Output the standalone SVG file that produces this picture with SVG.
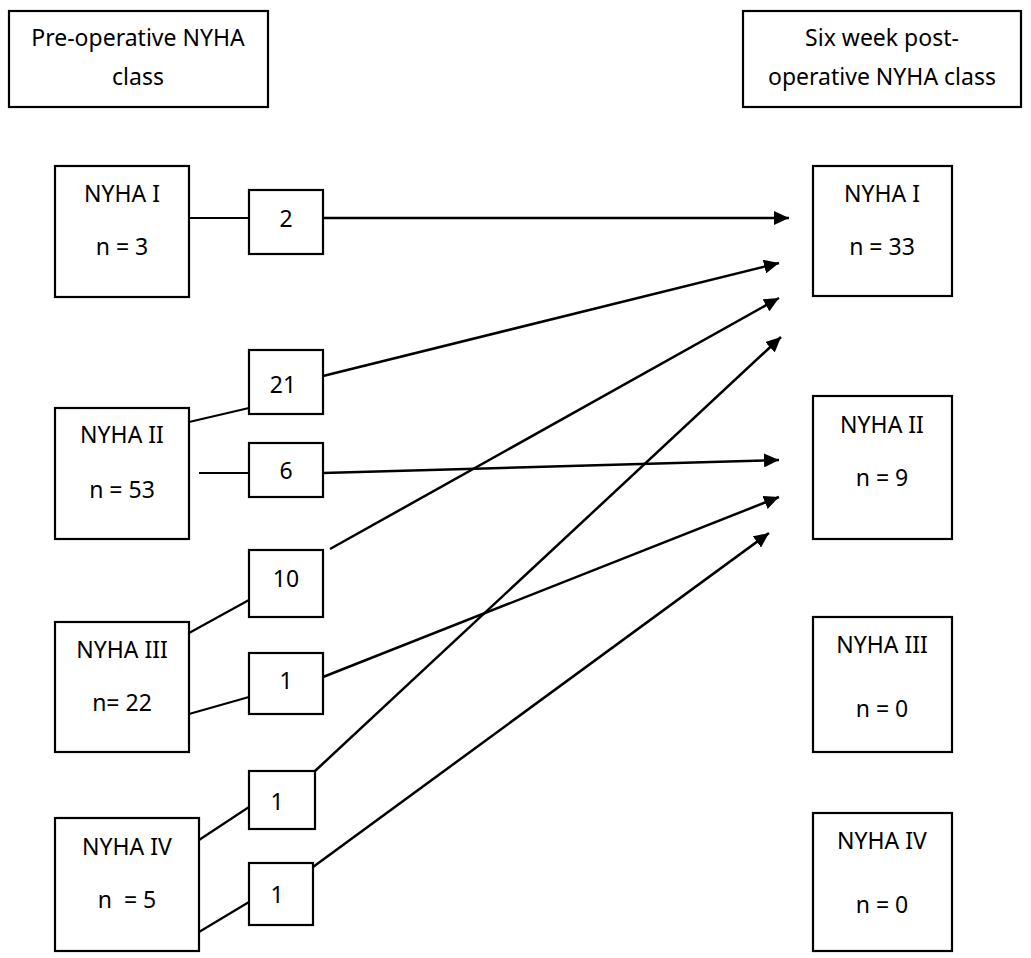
<svg xmlns="http://www.w3.org/2000/svg" width="1031" height="958" viewBox="0 0 1031 958">
<style>
rect{fill:#fff;stroke:#000;stroke-width:2.2}
text{font-family:"Noto Sans","Open Sans","Liberation Sans",sans-serif;font-size:23px;fill:#000;text-anchor:middle}
.c line{stroke:#000;stroke-width:2.2}
.c line.a{marker-end:url(#ah);stroke-width:2.5}
</style>
<defs>
<marker id="ah" markerUnits="userSpaceOnUse" markerWidth="16" markerHeight="14" refX="15" refY="7" orient="auto">
<path d="M0,0 L15,7 L0,14 z" fill="#000"/>
</marker>
</defs>
<rect width="1031" height="958" style="stroke:none"/>
<g id="hdr-pre"><rect x="9" y="11" width="259" height="96"/><text x="138" y="46">Pre-operative NYHA</text><text x="138" y="85">class</text></g>
<g id="hdr-post"><rect x="743" y="11" width="278" height="96"/><text x="882" y="46">Six week post-</text><text x="882" y="85">operative NYHA class</text></g>
<g class="c" id="connectors">
<line x1="189" y1="218" x2="249" y2="218"/>
<line class="a" x1="323" y1="218" x2="789" y2="218"/>
<line x1="189" y1="422" x2="249" y2="408"/>
<line class="a" x1="323" y1="376" x2="779" y2="263"/>
<line x1="199" y1="473" x2="249" y2="473"/>
<line class="a" x1="323" y1="473" x2="779" y2="460"/>
<line x1="189" y1="633" x2="249" y2="600"/>
<line class="a" x1="330" y1="549" x2="779" y2="298"/>
<line x1="189" y1="714" x2="249" y2="697"/>
<line class="a" x1="323" y1="677" x2="779" y2="497"/>
<line x1="199" y1="840" x2="249" y2="807"/>
<line class="a" x1="315" y1="771" x2="781" y2="337"/>
<line x1="199" y1="932" x2="249" y2="902"/>
<line class="a" x1="313" y1="867" x2="769" y2="533"/>
</g>
<g id="pre1"><rect x="55" y="166" width="134" height="131"/><text x="122" y="202">NYHA I</text><text x="122" y="255">n = 3</text></g>
<g id="pre2"><rect x="55" y="408" width="134" height="131"/><text x="122" y="443">NYHA II</text><text x="122" y="498">n = 53</text></g>
<g id="pre3"><rect x="55" y="622" width="134" height="130"/><text x="122" y="658">NYHA III</text><text x="122" y="711">n= 22</text></g>
<g id="pre4"><rect x="55" y="818" width="144" height="133"/><text x="127" y="855">NYHA IV</text><text x="127" y="908" xml:space="preserve">n  = 5</text></g>
<g id="c2"><rect x="249" y="190" width="74" height="64"/><text x="286" y="227">2</text></g>
<g id="c21"><rect x="249" y="350" width="74" height="64"/><text x="283" y="393">21</text></g>
<g id="c6"><rect x="249" y="443" width="74" height="54"/><text x="286" y="479">6</text></g>
<g id="c10"><rect x="249" y="550" width="74" height="67"/><text x="286" y="587">10</text></g>
<g id="c1a"><rect x="249" y="653" width="74" height="61"/><text x="286" y="689">1</text></g>
<g id="c1b"><rect x="249" y="771" width="66" height="58"/><text x="277" y="810">1</text></g>
<g id="c1c"><rect x="249" y="863" width="64" height="62"/><text x="277" y="903">1</text></g>
<g id="post1"><rect x="813" y="166" width="139" height="130"/><text x="882" y="202">NYHA I</text><text x="882" y="255">n = 33</text></g>
<g id="post2"><rect x="813" y="396" width="139" height="143"/><text x="882" y="433">NYHA II</text><text x="882" y="486">n = 9</text></g>
<g id="post3"><rect x="813" y="617" width="139" height="135"/><text x="882" y="653">NYHA III</text><text x="882" y="717">n = 0</text></g>
<g id="post4"><rect x="813" y="813" width="139" height="138"/><text x="882" y="849">NYHA IV</text><text x="882" y="913">n = 0</text></g>
</svg>
